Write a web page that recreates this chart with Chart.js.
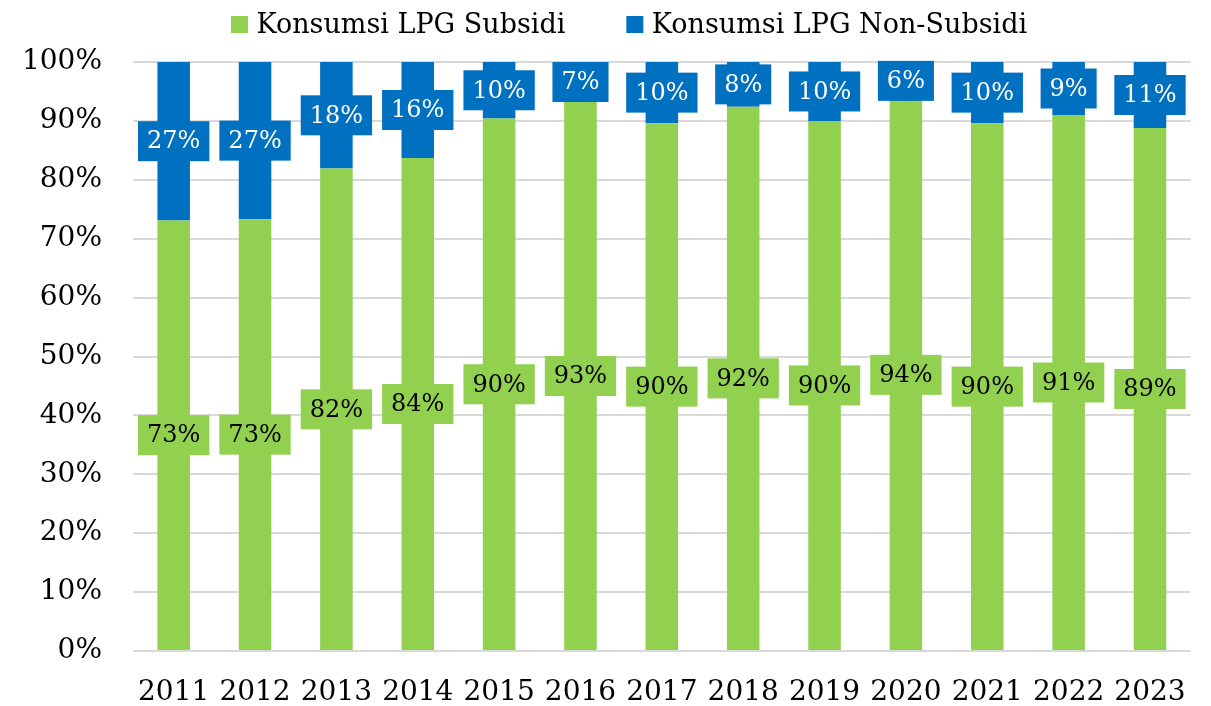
<!DOCTYPE html>
<html>
<head>
<meta charset="utf-8">
<script src="https://cdn.jsdelivr.net/npm/chart.js@4.4.0/dist/chart.umd.min.js"></script>
<style>
  html, body { margin: 0; padding: 0; background: #fff; }
  #wrap { width: 1211px; height: 706px; }
</style>
</head>
<body>
<div id="wrap"><canvas id="lpgChart"></canvas></div>
<script>
const years = ['2011', '2012', '2013', '2014', '2015', '2016', '2017', '2018', '2019', '2020', '2021', '2022', '2023'];
const subsidi = [73.1, 73.3, 81.9, 83.7, 90.4, 93.2, 89.6, 92.4, 90.0, 93.6, 89.6, 91.0, 88.8];
const nonSubsidi = [26.9, 26.7, 18.1, 16.3, 9.6, 6.8, 10.4, 7.6, 10.0, 6.4, 10.4, 9.0, 11.2];
const seriesNames = ['Konsumsi LPG Subsidi', 'Konsumsi LPG Non-Subsidi'];

const FONT = '"DejaVu Serif", "Liberation Serif", serif';
const GREEN = '#92d050';
const BLUE = '#0070c0';

// boxed value labels in the middle of each segment
const boxLabels = {
    id: 'boxLabels',
    afterDatasetsDraw(chart) {
        const ctx = chart.ctx;
        ctx.save();
        ctx.font = '24px ' + FONT;
        ctx.textAlign = 'center';
        ctx.textBaseline = 'middle';
        chart.data.datasets.forEach((ds, i) => {
            const meta = chart.getDatasetMeta(i);
            meta.data.forEach((bar, j) => {
                const txt = Math.round(ds.data[j]) + '%';
                const cy = (bar.y + bar.base) / 2;
                const w = ctx.measureText(txt).width + 18;
                const h = 40;
                ctx.fillStyle = ds.backgroundColor;
                ctx.fillRect(bar.x - w / 2, cy - h / 2, w, h);
                ctx.fillStyle = ds.labelColor;
                ctx.fillText(txt, bar.x, cy + 1);
            });
        });
        ctx.restore();
    }
};

// legend at the top, placed like the original
const topLegend = {
    id: 'topLegend',
    afterDraw(chart) {
        const ctx = chart.ctx;
        let x = 231;
        ctx.save();
        ctx.font = '27px ' + FONT;
        ctx.textBaseline = 'alphabetic';
        chart.data.datasets.forEach(ds => {
            ctx.fillStyle = ds.backgroundColor;
            ctx.fillRect(x, 16, 17, 17);
            ctx.fillStyle = '#000';
            ctx.fillText(ds.label, x + 25.5, 33.3);
            x += 25.5 + ctx.measureText(ds.label).width + 61;
        });
        ctx.restore();
    }
};

new Chart(document.getElementById('lpgChart'), {
    type: 'bar',
    data: {
        labels: years,
        datasets: [{
            label: seriesNames[0],
            data: subsidi,
            backgroundColor: GREEN,
            labelColor: '#000',
            barPercentage: 0.4,
            categoryPercentage: 1
        }, {
            label: seriesNames[1],
            data: nonSubsidi,
            backgroundColor: BLUE,
            labelColor: '#fff',
            barPercentage: 0.4,
            categoryPercentage: 1
        }]
    },
    options: {
        responsive: true,
        maintainAspectRatio: false,
        animation: false,
        layout: { padding: { top: 62, right: 10, left: 24, bottom: 0 } },
        plugins: {
            legend: { display: false },
            tooltip: { enabled: false }
        },
        scales: {
            x: {
                stacked: true,
                grid: { display: false, drawTicks: false },
                border: { display: false },
                ticks: { color: '#000', padding: 25, font: { family: FONT, size: 28 } },
                afterFit: s => { s.height = 55; }
            },
            y: {
                stacked: true,
                min: 0,
                max: 100,
                grid: { color: '#d9d9d9', lineWidth: 2, drawTicks: false },
                border: { display: false },
                ticks: {
                    stepSize: 10,
                    padding: 31,
                    color: '#000',
                    font: { family: FONT, size: 28 },
                    callback: v => v + '%'
                },
                afterFit: s => { s.width = 109; }
            }
        }
    },
    plugins: [boxLabels, topLegend]
});
</script>
</body>
</html>
